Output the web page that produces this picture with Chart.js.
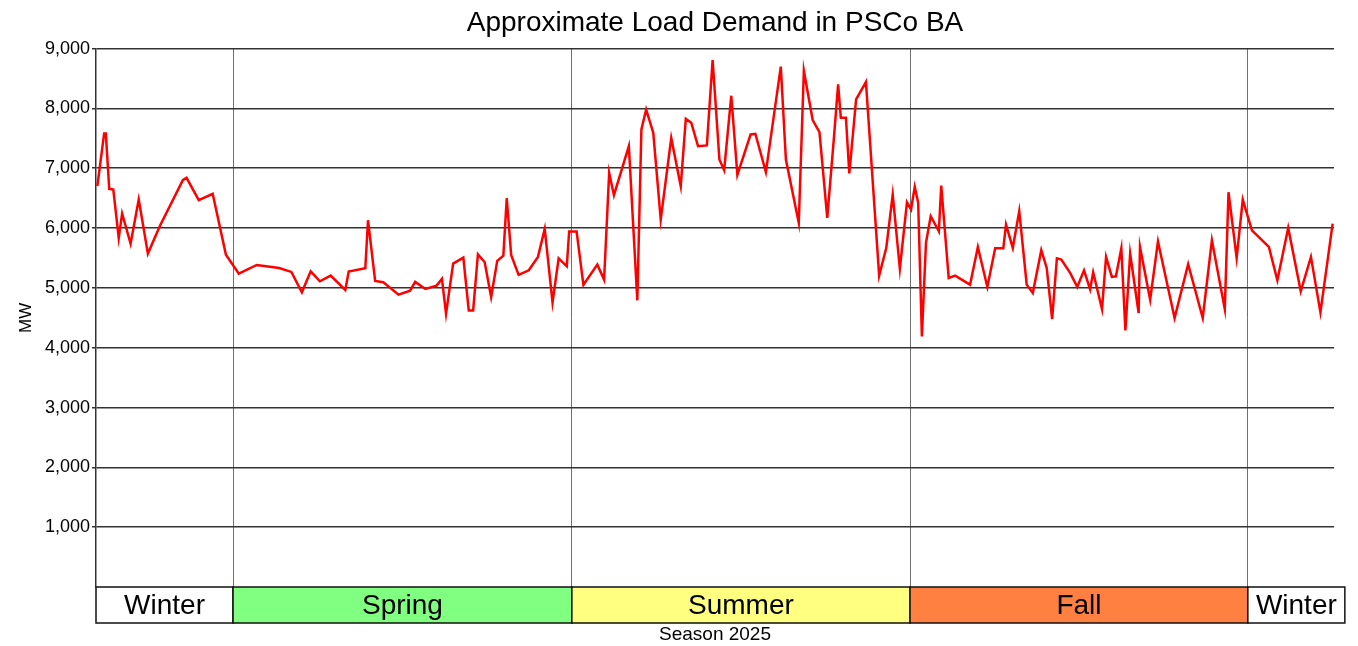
<!DOCTYPE html>
<html>
<head>
<meta charset="utf-8">
<title>Approximate Load Demand in PSCo BA</title>
<script src="https://cdn.jsdelivr.net/npm/chart.js@4.4.1/dist/chart.umd.min.js"></script>
<style>
  html, body { margin: 0; padding: 0; background: #ffffff; }
  #wrap { width: 1358px; height: 646px; }
</style>
</head>
<body>
<div id="wrap"><canvas id="loadChart" width="1358" height="646"></canvas></div>
<script>
// DATA - day position along the year and load in MW
let days = [
  0.4, 2.4, 2.9, 3.9, 5.1, 6.7, 7.7, 10.2, 12.6, 15.3,
  18.9, 25.6, 26.7, 30.3, 34.4, 38.3, 42.1, 47.4, 54.0, 57.6,
  60.7, 63.3, 66.0, 69.2, 73.5, 74.5, 79.4, 80.2, 82.3, 84.7,
  89.2, 92.6, 94.1, 97.1, 100.4, 102.0, 103.2, 105.3, 108.3, 109.9,
  111.2, 112.6, 114.6, 116.5, 118.3, 120.1, 121.1, 122.4, 124.6, 127.6,
  130.3, 132.3, 134.6, 136.4, 138.8, 139.5, 141.7, 143.7, 147.8, 149.8,
  151.3, 152.7, 157.1, 159.6, 160.8, 162.2, 164.3, 166.5, 169.6, 172.4,
  173.9, 175.5, 177.5, 180.1, 181.8, 183.8, 185.2, 187.3, 189.1, 193.0,
  194.4, 197.5, 201.9, 203.4, 207.2, 208.7, 211.3, 213.3, 215.6, 217.6,
  218.8, 219.6, 221.1, 222.1, 224.1, 227.0, 230.9, 233.0, 234.9, 237.0,
  239.1, 240.3, 241.4, 242.4, 243.5, 244.7, 246.1, 248.5, 249.2, 251.4,
  253.3, 257.7, 260.0, 262.8, 265.1, 267.5, 268.3, 270.3, 272.2, 274.4,
  276.2, 278.7, 280.3, 281.9, 283.3, 284.6, 287.2, 289.3, 291.3, 293.1,
  294.0, 296.6, 297.8, 299.5, 300.7, 302.3, 303.5, 304.9, 307.4, 307.8,
  310.8, 313.1, 318.0, 322.0, 326.3, 329.0, 332.8, 333.9, 336.3, 338.1,
  340.8, 345.8, 348.3, 351.5, 355.2, 358.2, 361.0, 364.6
];
let loadMW = [
  6700, 7582, 7582, 6656, 6644, 5836, 6243, 5740, 6477, 5573,
  6042, 6800, 6840, 6466, 6572, 5556, 5238, 5384, 5333, 5267,
  4926, 5277, 5110, 5205, 4965, 5272, 5328, 6131, 5116, 5094,
  4887, 4954, 5100, 4982, 5038, 5150, 4569, 5406, 5506, 4624,
  4624, 5562, 5428, 4848, 5451, 5540, 6499, 5551, 5217, 5294,
  5518, 5987, 4758, 5495, 5361, 5941, 5941, 5050, 5389, 5138,
  6923, 6549, 7369, 4792, 7649, 7983, 7593, 6142, 7504, 6700,
  7827, 7761, 7369, 7381, 8809, 7146, 6968, 8212, 6890, 7565,
  7576, 6935, 8698, 7146, 6086, 8631, 7805, 7604, 6170, 7536,
  8402, 7844, 7844, 6912, 8151, 8441, 5205, 5669, 6560, 5320,
  6430, 6310, 6690, 6422, 4189, 5752, 6198, 5947, 6711, 5166,
  5205, 5054, 5685, 5016, 5662, 5662, 6059, 5669, 6282, 5054,
  4915, 5630, 5334, 4480, 5495, 5473, 5250, 5016, 5294, 4975,
  5261, 4648, 5518, 5183, 5194, 5662, 4290, 5573, 4580, 5685,
  4803, 5774, 4497, 5395, 4497, 5796, 4648, 6599, 5500, 6477,
  5963, 5685, 5127, 6003, 4942, 5518, 4591, 6075
];

// SEASONS (band under the plot)
let seasonNames = ['Winter', 'Spring', 'Summer', 'Fall', 'Winter'];
let seasonStart = [0, 40.4, 140.3, 240.0, 339.6];
let seasonEnd = [40.4, 140.3, 240.0, 339.6, 368.2];
let seasonBreaks = [40.4, 140.3, 240.0, 339.6];

// STYLE
let seasonColors = ['#ffffff', '#80ff80', '#ffff80', '#ff8040', '#ffffff'];
let fontFamily = '"Liberation Sans", Arial, Helvetica, sans-serif';
Chart.defaults.font.family = fontFamily;
Chart.defaults.color = '#000000';

// build the points for the line
let points = [];
for (let i = 0; i < days.length; i++) {
  points.push({ x: days[i], y: loadMW[i] });
}

// draws the coloured season boxes under the x axis
let seasonBand = {
  id: 'seasonBand',
  afterDraw(chart) {
    let ctx = chart.ctx;
    let xs = chart.scales.x;
    let top = chart.chartArea.bottom;
    let h = 36;
    ctx.save();
    ctx.lineWidth = 1.5;
    ctx.strokeStyle = '#111111';
    ctx.font = '28px ' + fontFamily;
    ctx.textAlign = 'center';
    ctx.textBaseline = 'middle';
    for (let i = 0; i < seasonNames.length; i++) {
      let x0 = xs.getPixelForValue(seasonStart[i]);
      let x1 = xs.getPixelForValue(seasonEnd[i]);
      ctx.fillStyle = seasonColors[i];
      ctx.fillRect(x0, top, x1 - x0, h);
      ctx.strokeRect(x0, top, x1 - x0, h);
      ctx.fillStyle = '#000000';
      ctx.fillText(seasonNames[i], (x0 + x1) / 2, top + h / 2 + 1);
    }
    ctx.restore();
  }
};

let ctx = document.getElementById('loadChart').getContext('2d');
let loadChart = new Chart(ctx, {
  type: 'line',
  data: {
    datasets: [{
      label: 'Load (MW)',
      data: points,
      borderColor: '#ff0000',
      backgroundColor: '#ff0000',
      borderWidth: 2.5,
      pointRadius: 0,
      tension: 0,
      fill: false
    }]
  },
  options: {
    responsive: false,
    animation: false,
    devicePixelRatio: 1,
    layout: { padding: { left: 0, right: 24, top: 0, bottom: 0 } },
    plugins: {
      legend: { display: false },
      tooltip: { enabled: false },
      title: {
        display: true,
        text: 'Approximate Load Demand in PSCo BA',
        fullSize: false,
        color: '#000000',
        font: { size: 28, weight: 'normal' },
        padding: { top: 6, bottom: 9 }
      }
    },
    scales: {
      x: {
        type: 'linear',
        min: 0,
        max: 365,
        afterBuildTicks: function (scale) {
          scale.ticks = seasonBreaks.map(v => ({ value: v }));
        },
        ticks: { display: false },
        grid: { color: '#707070', lineWidth: 1, drawTicks: false },
        border: { display: false },
        title: {
          display: true,
          text: 'Season 2025',
          color: '#000000',
          font: { size: 19 },
          padding: { top: 36.2, bottom: 0 }
        }
      },
      y: {
        min: 0,
        max: 9000,
        afterFit: function (scale) { scale.width = 96; },
        ticks: {
          stepSize: 1000,
          padding: 2,
          color: '#000000',
          font: { size: 18 },
          callback: v => v === 0 ? '' : v.toLocaleString('en-US')
        },
        grid: {
          color: c => c.tick && c.tick.value === 0 ? 'rgba(0,0,0,0)' : '#333333',
          lineWidth: 1.5,
          tickLength: 4
        },
        border: { display: true, color: '#333333', width: 1.5 },
        title: {
          display: true,
          text: 'MW',
          color: '#000000',
          font: { size: 17 },
          padding: { top: 16, bottom: 0 }
        }
      }
    }
  },
  plugins: [seasonBand]
});
</script>
</body>
</html>
